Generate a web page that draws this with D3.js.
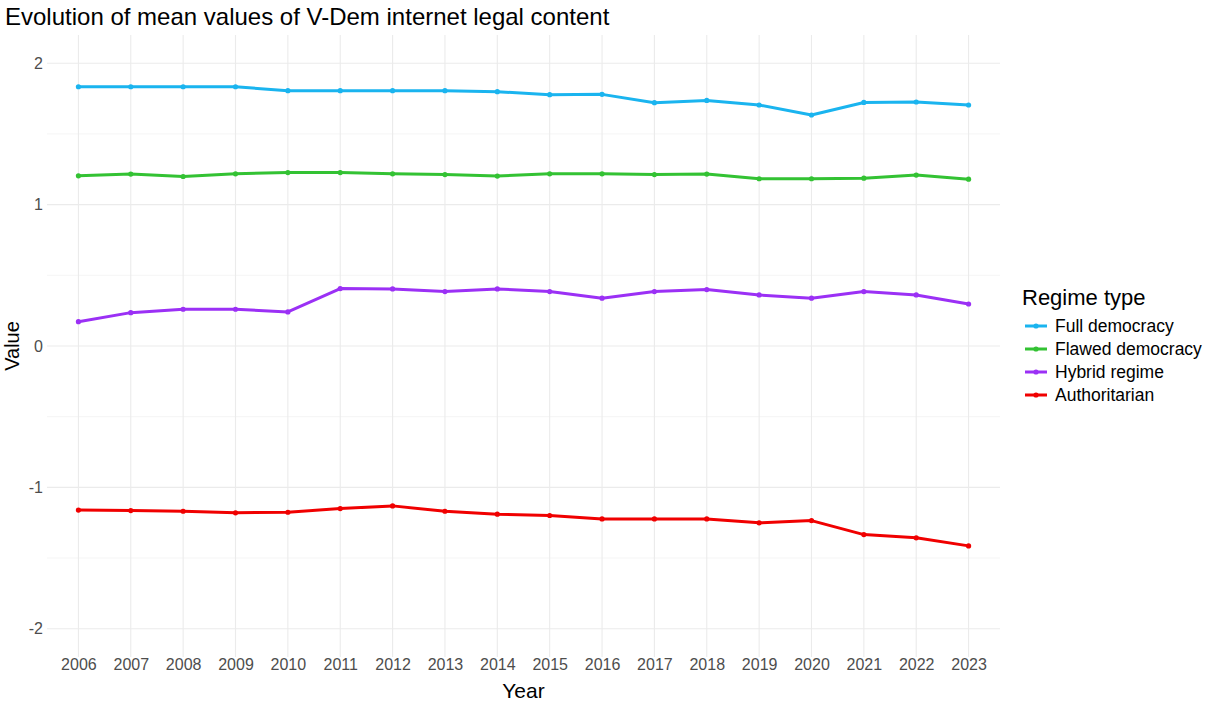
<!DOCTYPE html>
<html>
<head>
<meta charset="utf-8">
<script src="https://cdn.jsdelivr.net/npm/d3@7"></script>
<style>
  body { margin: 0; background: #fff; }
  svg { font-family: "Liberation Sans", Arial, sans-serif; }
</style>
</head>
<body>
<svg width="1212" height="702"></svg>
<script>
var years = [2006, 2007, 2008, 2009, 2010, 2011, 2012, 2013, 2014, 2015, 2016, 2017, 2018, 2019, 2020, 2021, 2022, 2023];

var regimes = ["Full democracy", "Flawed democracy", "Hybrid regime", "Authoritarian"];
var colors = ["#1ab4ef", "#33c233", "#9b30f5", "#f00000"];

var fullDemocracy   = [1.834, 1.834, 1.834, 1.834, 1.806, 1.806, 1.806, 1.806, 1.799, 1.778, 1.780, 1.721, 1.737, 1.705, 1.634, 1.723, 1.726, 1.705];
var flawedDemocracy = [1.204, 1.216, 1.199, 1.218, 1.227, 1.227, 1.218, 1.213, 1.202, 1.218, 1.218, 1.213, 1.216, 1.183, 1.183, 1.187, 1.209, 1.180];
var hybridRegime    = [0.172, 0.236, 0.260, 0.260, 0.241, 0.406, 0.404, 0.385, 0.404, 0.385, 0.338, 0.385, 0.399, 0.361, 0.338, 0.385, 0.361, 0.297];
var authoritarian   = [-1.161, -1.164, -1.169, -1.180, -1.176, -1.150, -1.131, -1.169, -1.190, -1.199, -1.223, -1.223, -1.223, -1.251, -1.235, -1.334, -1.357, -1.414];

var yTicks = [-2, -1, 0, 1, 2];
var yMinor = [-1.5, -0.5, 0.5, 1.5];

var series = [fullDemocracy, flawedDemocracy, hybridRegime, authoritarian].map(function(vals, i) {
    return {name: regimes[i], color: colors[i], values: vals.map(function(v, j) { return {year: years[j], value: v}; })};
});

var svg = d3.select("svg"),
    panel = {left: 47, right: 1000, top: 35, bottom: 657};

var x = d3.scalePoint()
    .domain(years)
    .range([panel.left, panel.right])
    .padding(0.6);

var y = d3.scaleLinear()
    .domain([-2.2, 2.2])
    .range([panel.bottom, panel.top]);

// grid
var grid = svg.append("g").attr("class", "grid");
grid.selectAll(".minor")
    .data(yMinor)
    .enter().append("line")
    .attr("x1", panel.left).attr("x2", panel.right)
    .attr("y1", function(d) { return y(d); })
    .attr("y2", function(d) { return y(d); })
    .attr("stroke", "#f2f2f2").attr("stroke-width", 0.8);
grid.selectAll(".major")
    .data(yTicks)
    .enter().append("line")
    .attr("x1", panel.left).attr("x2", panel.right)
    .attr("y1", function(d) { return y(d); })
    .attr("y2", function(d) { return y(d); })
    .attr("stroke", "#ebebeb").attr("stroke-width", 1.1);
grid.selectAll(".vert")
    .data(years)
    .enter().append("line")
    .attr("x1", function(d) { return x(d); })
    .attr("x2", function(d) { return x(d); })
    .attr("y1", panel.top).attr("y2", panel.bottom)
    .attr("stroke", "#ebebeb").attr("stroke-width", 1.1);

// axes
var xAxis = svg.append("g")
    .attr("transform", "translate(0," + (panel.bottom + 1) + ")")
    .call(d3.axisBottom(x).tickSize(0).tickPadding(1));
var yAxis = svg.append("g")
    .attr("transform", "translate(" + (panel.left - 4) + ",0)")
    .call(d3.axisLeft(y).tickValues(yTicks).tickSize(0).tickPadding(0)
        .tickFormat(function(d) { return String(d); }));
[xAxis, yAxis].forEach(function(a) {
    a.select(".domain").remove();
    a.selectAll("text")
        .attr("fill", "#4d4d4d")
        .style("font-size", "16px")
        .style("font-family", "'Liberation Sans', Arial, sans-serif");
});

// lines and points
var line = d3.line()
    .x(function(d) { return x(d.year); })
    .y(function(d) { return y(d.value); });

var lines = svg.append("g").attr("class", "series")
    .selectAll("g")
    .data(series)
    .enter().append("g");

lines.append("path")
    .attr("d", function(d) { return line(d.values); })
    .attr("fill", "none")
    .attr("stroke", function(d) { return d.color; })
    .attr("stroke-width", 3)
    .attr("stroke-linejoin", "round");

lines.each(function(s) {
    d3.select(this).selectAll("circle")
        .data(s.values)
        .enter().append("circle")
        .attr("cx", function(d) { return x(d.year); })
        .attr("cy", function(d) { return y(d.value); })
        .attr("r", 2.6)
        .attr("fill", s.color);
});

// titles
svg.append("text")
    .attr("x", 5).attr("y", 25)
    .style("font-size", "24px")
    .attr("fill", "#000")
    .text("Evolution of mean values of V-Dem internet legal content");

svg.append("text")
    .attr("x", (panel.left + panel.right) / 2).attr("y", 698)
    .attr("text-anchor", "middle")
    .style("font-size", "21px")
    .text("Year");

svg.append("text")
    .attr("transform", "translate(19," + y(0) + ") rotate(-90)")
    .attr("text-anchor", "middle")
    .style("font-size", "20px")
    .text("Value");

// legend
var legend = svg.append("g").attr("transform", "translate(1022,0)");
legend.append("text")
    .attr("x", 0).attr("y", 305)
    .style("font-size", "22px")
    .text("Regime type");

var item = legend.selectAll(".item")
    .data(series)
    .enter().append("g")
    .attr("transform", function(d, i) { return "translate(0," + (326 + i * 23) + ")"; });
item.append("line")
    .attr("x1", 3).attr("x2", 25)
    .attr("stroke", function(d) { return d.color; })
    .attr("stroke-width", 3);
item.append("circle")
    .attr("cx", 14).attr("r", 2.6)
    .attr("fill", function(d) { return d.color; });
item.append("text")
    .attr("x", 33).attr("dy", "0.35em")
    .style("font-size", "17.5px")
    .text(function(d) { return d.name; });
</script>
</body>
</html>
